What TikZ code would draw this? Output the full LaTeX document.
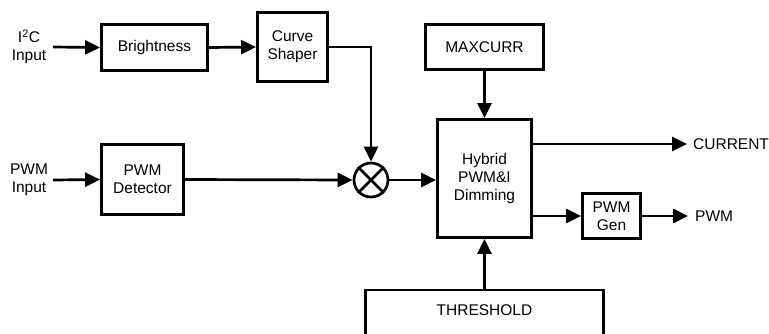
\documentclass[tikz,border=0pt]{standalone}
\usepackage{fontspec}
\setmainfont{Liberation Sans}
\usetikzlibrary{arrows.meta}
\begin{document}
\begin{tikzpicture}[x=1pt,y=-1pt,
  every node/.style={font=\fontsize{15.5}{18}\selectfont, align=center, inner sep=0pt},
  blk/.style={draw, line width=2.9pt, minimum width=#1},
  conn/.style={line width=2.7pt},
  arr/.style={conn, -{Triangle[length=15pt,width=14pt]}}]
\useasboundingbox (0,0) rectangle (769,333);
% text labels
\node (i2c) at (29,47) {I\textsuperscript{2}C\\Input};
\node (pwmin) at (29,180) {PWM\\Input};
% boxes
\node[blk=106pt, minimum height=46pt] (bright) at (154.5,47.5) {Brightness};
\node[blk=70pt, minimum height=69pt] (curve) at (292.5,47) {Curve\\Shaper};
\node[blk=82pt, minimum height=70pt] (det) at (142.5,179.5) {PWM\\Detector};
\node[draw, circle, line width=2.7pt, minimum size=34pt] (mult) at (371,180) {};
\draw[conn] (mult.north west) -- (mult.south east);
\draw[conn] (mult.north east) -- (mult.south west);
\node[blk=118pt, minimum height=45pt] (maxc) at (484.5,47) {MAXCURR};
\node[blk=94pt, minimum height=118pt] (hyb) at (484.5,178.5) {Hybrid\\PWM\&I\\Dimming};
\node[blk=58pt, minimum height=45pt] (gen) at (611.5,216) {PWM\\Gen};
\node[blk=238pt, minimum height=70pt, anchor=north] (thr) at (484.5,288.5) {};
\node (thrt) at (484.5,310) {THRESHOLD};
\node[anchor=west] (cur) at (693,144) {CURRENT};
\node[anchor=west] (pwmout) at (695,216) {PWM};
% coordinates
\coordinate (i2cst) at (53,47);
\coordinate (pwmst) at (53,180);
\coordinate (corner) at (371,47);
\coordinate (curend) at (687,144);
\coordinate (pwmend) at (688,216);
\coordinate (hybcur) at (hyb.east |- curend);
\coordinate (hybpwm) at (hyb.east |- gen.west);
% connectors
\draw[arr] (i2cst) -- (bright.west);
\draw[arr] (bright.east) -- (curve.west);
\draw[arr] (curve.east) -- (corner) -- (mult.north);
\draw[arr] (pwmst) -- (det.west);
\draw[arr] (det.east) -- (mult.west);
\draw[arr] (mult.east) -- (hyb.west |- mult.east);
\draw[arr] (maxc.south) -- (hyb.north);
\draw[arr] (hybcur) -- (curend);
\draw[arr] (hybpwm) -- (gen.west);
\draw[arr] (gen.east) -- (pwmend);
\draw[arr] (thr.north) -- (hyb.south);
\end{tikzpicture}
\end{document}
